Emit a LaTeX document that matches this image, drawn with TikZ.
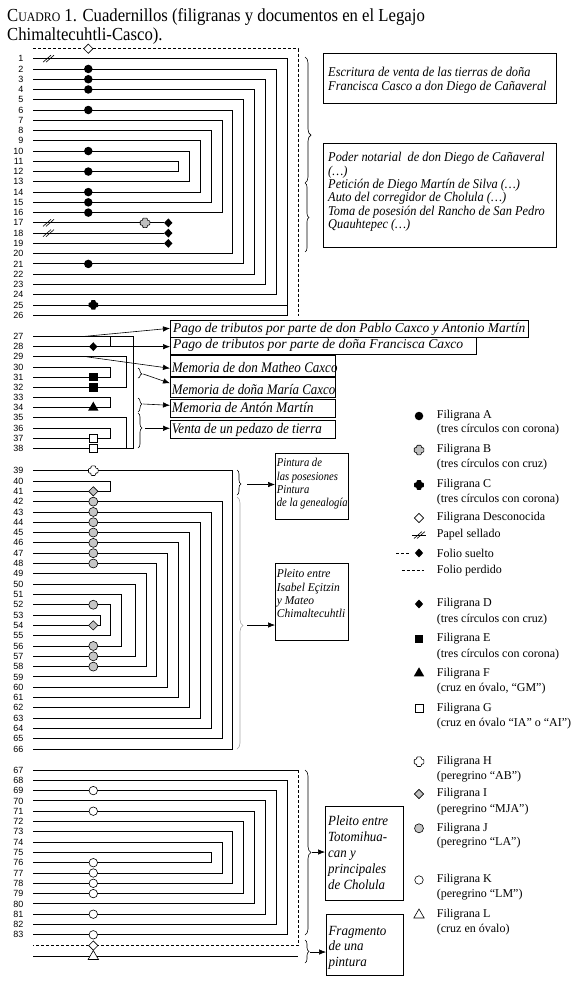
\documentclass[tikz,border=0pt]{standalone}
\usepackage{fontspec}
\usepackage{graphicx}
\setmainfont{Liberation Serif}
\newfontfamily\numfont{Liberation Sans}
\usetikzlibrary{arrows.meta,decorations.pathreplacing,shapes.geometric}
\tikzset{
  fol/.style={line width=0.85pt},
  lost/.style={line width=0.85pt, dash pattern=on 3pt off 2pt},
  num/.style={font=\numfont\fontsize{9}{9}\selectfont, anchor=east, inner sep=0pt},
  frame/.style={draw, line width=0.8pt, anchor=north west, inner sep=0pt},
  tbox/.style={anchor=north west, inner sep=0pt},
  brc/.style={decorate, decoration={brace, amplitude=4pt}, line width=0.6pt},
  arr/.style={-{Latex[length=7pt,width=5.5pt]}, line width=0.6pt},
  leg/.style={anchor=west, inner sep=0pt, font=\fontsize{12}{12}\selectfont},
  ttl/.style={anchor=base west, inner sep=0pt, font=\fontsize{16.7}{19}\selectfont},
  fA/.style={circle, fill=black, minimum size=8.5pt, inner sep=0pt},
  fD/.style={diamond, fill=black, minimum width=8.5pt, minimum height=9pt, inner sep=0pt},
  fE/.style={rectangle, fill=black, minimum size=8.5pt, inner sep=0pt},
  fF/.style={regular polygon, regular polygon sides=3, fill=black, minimum size=12pt, inner sep=0pt},
  fG/.style={rectangle, draw, line width=0.6pt, fill=white, minimum size=8pt, inner sep=0pt},
  fI/.style={diamond, draw, line width=0.6pt, fill=gray!50, minimum size=9.5pt, inner sep=0pt},
  fJ/.style={circle, draw, line width=0.6pt, fill=gray!45, minimum size=9pt, inner sep=0pt},
  fK/.style={circle, draw, line width=0.6pt, fill=white, minimum size=8.5pt, inner sep=0pt},
  fL/.style={regular polygon, regular polygon sides=3, draw, line width=0.6pt, fill=white, minimum size=12pt, inner sep=0pt},
  fU/.style={diamond, draw, line width=0.6pt, fill=white, minimum size=9.5pt, inner sep=0pt},
  crossmk/.pic={\path[pic actions, rounded corners=0.8pt] (-2.3,-4.8) -- (2.3,-4.8) -- (2.3,-2.3) -- (4.8,-2.3) -- (4.8,2.3) -- (2.3,2.3) -- (2.3,4.8) -- (-2.3,4.8) -- (-2.3,2.3) -- (-4.8,2.3) -- (-4.8,-2.3) -- (-2.3,-2.3) -- cycle;},
  sellmk/.pic={\draw[line width=0.6pt] (-5,3.5) -- (3,-3.5) (-2,3.5) -- (6,-3.5);}
}
\newcommand\fpair[3]{\draw[fol] (r#1) -- (#3,0 |- r#1) -- (#3,0 |- r#2) -- (r#2);}
% width, total height, font size, line spacing, lines
\newcommand\fitlines[5]{\resizebox*{#1pt}{#2pt}{\fontsize{#3pt}{#4pt}\selectfont\itshape\begin{tabular}{@{}l@{}}#5\end{tabular}}}
\begin{document}
\begin{tikzpicture}[x=1pt,y=-1pt]
\useasboundingbox (0,0) rectangle (587,985);
% title
\node[ttl] (t1) at (7,21) {\scalebox{1}[1.1]{C{\fontsize{11.8}{14}\selectfont UADRO} 1. Cuadernillos (filigranas y documentos en el Legajo}};
\node[ttl] (t2) at (7,40.7) {\scalebox{1}[1.1]{Chimaltecuhtli-Casco).}};
% rows
\foreach \n in {1,...,26}{\coordinate (r\n) at (33,{58.7+(\n-1)*10.26});}
\foreach \n in {27,...,38}{\coordinate (r\n) at (33,{336.5+(\n-27)*10.16});}
\foreach \n in {39,...,66}{\coordinate (r\n) at (33,{470.7+(\n-39)*10.31});}
\foreach \n in {67,...,83}{\coordinate (r\n) at (33,{770+(\n-67)*10.3});}
\coordinate (rd1) at (33,48.7);
\coordinate (rd2) at (33,945.5);
\coordinate (rl) at (33,956.5);
\foreach \n in {1,...,83}{\node[num] (n\n) at ([xshift=-9.5pt]r\n) {\n};}
% ---- section 1
\draw[lost] (rd1) -- (298,0 |- rd1) -- (298,316);
\fpair{1}{26}{287.5}
\draw[fol] (r25) -- (287.5,0 |- r25);
\fpair{2}{24}{276.7}
\fpair{3}{23}{265.7}
\fpair{4}{22}{254.8}
\fpair{5}{21}{243.8}
\fpair{6}{20}{232.8}
\fpair{7}{16}{222.3}
\fpair{8}{15}{211.3}
\fpair{9}{14}{200.3}
\fpair{10}{13}{189.3}
\fpair{11}{12}{178.3}
\foreach \n in {17,18,19}{\node[fD] (d\n) at (168.3,0 |- r\n) {}; \draw[fol] (r\n) -- (d\n);}
\foreach \n in {2,3,4,6,10,12,14,15,16,21}{\node[fA] (a\n) at (88.3,0 |- r\n) {};}
\node[fU] (u0) at (88.3,0 |- rd1) {};
\pic at (48,0 |- r1) {sellmk};
\pic at (48,0 |- r17) {sellmk};
\pic at (48,0 |- r18) {sellmk};
\pic[fill=gray!50, draw=black, line width=0.6pt] at (145,0 |- r17) {crossmk};
\pic[fill=black] at (93.3,0 |- r25) {crossmk};
% braces section 1
\draw[brc, decoration={aspect=0.62, amplitude=6pt}] (305,57) -- (305,183);
\draw[brc] (305,183) -- (305,252);
\node[frame, minimum width=233.3pt, minimum height=50pt] (b1) at (322.7,53.3) {};
\node[tbox] (b1t) at (328,67.4) {\fitlines{218.4}{26.6}{13.6}{13.3}{Escritura de venta de las tierras de doña\\Francisca Casco a don Diego de Cañaveral}};
\node[frame, minimum width=233.3pt, minimum height=104pt] (b2) at (322.7,143.3) {};
\node[tbox] (b2t) at (328,152.4) {\fitlines{216.7}{79.8}{13.6}{13.3}{Poder notarial\ \ de don Diego de Cañaveral\\(…)\\Petición de Diego Martín de Silva (…)\\Auto del corregidor de Cholula (…)\\Toma de posesión del Rancho de San Pedro\\Quauhtepec (…)}};
% ---- section 2
\draw[fol] (r27) -- (133,0 |- r27) -- (133,0 |- r38) -- (r38);
\draw[fol] (110,0 |- r27) -- (110,0 |- r28) -- (r28);
\fpair{29}{32}{126.7}
\fpair{30}{31}{110}
\fpair{33}{34}{110}
\fpair{35}{38}{126.7}
\fpair{36}{37}{110}
\node[fD] (d28) at (93.3,0 |- r28) {};
\node[fE] (e31) at (93.3,0 |- r31) {};
\node[fE] (e32) at (93.3,0 |- r32) {};
\node[fF] (f34) at (93.3,0 |- r34) {};
\node[fG] (g37) at (93.3,0 |- r37) {};
\node[fG] (g38) at (93.3,0 |- r38) {};
\node[frame, minimum width=358pt, minimum height=17pt] (p1) at (170,320) {};
\node[tbox] (p1t) at (173,323.4) {\fitlines{352}{13.3}{13.6}{13.3}{Pago de tributos por parte de don Pablo Caxco y Antonio Martín}};
\node[frame, minimum width=306pt, minimum height=17pt] (p2) at (170,337) {};
\node[tbox] (p2t) at (173,339.2) {\fitlines{290}{13.3}{13.6}{13.3}{Pago de tributos por parte de doña Francisca Caxco}};
\node[frame, minimum width=165pt, minimum height=20.5pt] (m1) at (170,355) {};
\node[tbox] (m1t) at (171.7,362.3) {\fitlines{165.6}{14.6}{14.6}{14.6}{Memoria de don Matheo Caxco}};
\node[frame, minimum width=165pt, minimum height=20pt] (m2) at (170,377) {};
\node[tbox] (m2t) at (171.7,383.8) {\fitlines{163.3}{14.6}{14.6}{14.6}{Memoria de doña María Caxco}};
\node[frame, minimum width=165pt, minimum height=17.5pt] (m3) at (170,399) {};
\node[tbox] (m3t) at (171.7,402.3) {\fitlines{141.7}{14.6}{14.6}{14.6}{Memoria de Antón Martín}};
\node[frame, minimum width=165pt, minimum height=18pt] (m4) at (170,419.5) {};
\node[tbox] (m4t) at (171.7,423.3) {\fitlines{150}{14.6}{14.6}{14.6}{Venta de un pedazo de tierra}};
\coordinate (a1s) at (83.3,0 |- r27);
\coordinate (a3s) at (86.7,0 |- r29);
\draw[arr] (a1s) -- (p1.west |- 0,328.3);
\draw[arr] (d28) -- (p2.west |- d28);
\draw[arr] (a3s) -- (m1.west |- 0,368.3);
\draw[brc, decoration={aspect=0.6}] (138,368) -- (138,378);
\draw[brc, decoration={aspect=0.43}] (138,398) -- (138,412);
\draw[brc, decoration={aspect=0.43}] (138,413) -- (138,448);
\coordinate (k1) at (143.3,374);
\coordinate (k2) at (143.3,404);
\coordinate (k3) at (145,428.3);
\draw[arr] (k1) -- (m2.west |- 0,383.3);
\draw[arr] (k2) -- (m3.west |- 0,405.3);
\draw[arr] (k3) -- (m4.west |- k3);
% ---- section 3
\fpair{39}{66}{232.3}
\fpair{40}{41}{110}
\fpair{42}{65}{222.3}
\fpair{43}{64}{211.3}
\fpair{44}{63}{200.3}
\fpair{45}{62}{189.3}
\fpair{46}{61}{178.3}
\fpair{47}{60}{167.3}
\fpair{48}{59}{156.7}
\fpair{49}{58}{146.7}
\fpair{50}{57}{135}
\fpair{51}{56}{121}
\fpair{52}{55}{110}
\fpair{53}{54}{100}
\pic[fill=white, draw=black, line width=0.6pt] at (93.3,0 |- r39) {crossmk};
\node[fI] (i41) at (93.3,0 |- r41) {};
\node[fI] (i54) at (93.3,0 |- r54) {};
\foreach \n in {42,...,48,52,56,57,58}{\node[fJ] (j\n) at (93.3,0 |- r\n) {};}
\node[frame, minimum width=73.3pt, minimum height=66pt] (q1) at (275,453) {};
\node[tbox] (q1t) at (276.7,457.4) {\fitlines{70.7}{53.2}{12}{13.3}{Pintura de\\las posesiones\\Pintura\\de la genealogía}};
\node[frame, minimum width=73.3pt, minimum height=77pt] (q2) at (275,563) {};
\node[tbox] (q2t) at (276.7,568.2) {\fitlines{68.3}{53.2}{12}{13.3}{Pleito entre\\Isabel Eçitzin\\y Mateo\\Chimaltecuhtli}};
\draw[brc, decoration={aspect=0.56}] (237,470) -- (237,495);
\draw[brc, decoration={aspect=0.51, amplitude=6pt}, draw=gray!70] (237,497) -- (237,749);
\coordinate (k4) at (247,484.5);
\coordinate (k5) at (247,625);
\draw[arr] (k4) -- (q1.west |- k4);
\draw[arr] (k5) -- (q2.west |- k5);
% ---- section 4
\draw[fol] (r67) -- (298,0 |- r67);
\draw[lost] (298,0 |- r67) -- (298,0 |- rd2) -- (rd2);
\fpair{68}{83}{287.5}
\fpair{69}{82}{276.7}
\fpair{70}{81}{265.7}
\fpair{71}{80}{254.3}
\fpair{72}{79}{243.3}
\fpair{73}{78}{232.3}
\fpair{74}{77}{222.3}
\fpair{75}{76}{211.3}
\draw[fol] (rl) -- (298,0 |- rl);
\foreach \n in {69,71,76,77,78,79,81,83}{\node[fK] (k\n) at (93.3,0 |- r\n) {};}
\node[fU] (u1) at (93.3,0 |- rd2) {};
\node[fL] (l1) at (93.3,0 |- rl) {};
\node[frame, minimum width=78pt, minimum height=94pt] (t1b) at (325,806) {};
\node[tbox] (t1t) at (328,814.5) {\fitlines{60}{80}{14}{16}{Pleito entre\\Totomihua-\\can y\\principales\\de Cholula}};
\node[frame, minimum width=77pt, minimum height=61pt] (t2b) at (326,914) {};
\node[tbox] (t2t) at (328.3,924.2) {\fitlines{58}{46.5}{14}{15.5}{Fragmento\\de una\\pintura}};
\draw[brc, decoration={aspect=0.5, amplitude=6pt}] (305,770) -- (305,935);
\draw[brc] (305,940) -- (305,963);
\coordinate (k6) at (312,852);
\coordinate (k7) at (310,952);
\draw[arr] (k6) -- (t1b.west |- k6);
\draw[arr] (k7) -- (t2b.west |- k7);
% ---- legend
\node[fA] (lA) at (419,416) {};
\node[leg] (lA1) at (436.7,416) {Filigrana A};
\node[leg] (lA2) at (436.7,430) {(tres círculos con corona)};
\pic[fill=gray!50, draw=black, line width=0.6pt] at (419,450) {crossmk};
\node[leg] (lB1) at (436.7,450) {Filigrana B};
\node[leg] (lB2) at (436.7,465) {(tres círculos con cruz)};
\pic[fill=black] at (419,485) {crossmk};
\node[leg] (lC1) at (436.7,485) {Filigrana C};
\node[leg] (lC2) at (436.7,500) {(tres círculos con corona)};
\node[fU] (lU) at (419,518) {};
\node[leg] (lU1) at (436.7,518) {Filigrana Desconocida};
\draw[line width=0.6pt] (412,535) -- (426,535);
\pic at (419,535) {sellmk};
\node[leg] (lS1) at (436.7,535) {Papel sellado};
\draw[lost, line width=0.7pt] (396,553) -- (409,553);
\node[fD] (lD0) at (419,553) {};
\node[leg] (lF1) at (436.7,553) {Folio suelto};
\draw[lost, line width=0.7pt] (401.7,570.7) -- (424,570.7);
\node[leg] (lP1) at (436.7,570.7) {Folio perdido};
\node[fD] (lD) at (419,604) {};
\node[leg] (lD1) at (436.7,604) {Filigrana D};
\node[leg] (lD2) at (436.7,620) {(tres círculos con cruz)};
\node[fE] (lE) at (419,639) {};
\node[leg] (lE1) at (436.7,639) {Filigrana E};
\node[leg] (lE2) at (436.7,655) {(tres círculos con corona)};
\node[fF] (lF) at (419,673.3) {};
\node[leg] (lFF1) at (436.7,673.3) {Filigrana F};
\node[leg] (lFF2) at (436.7,689) {(cruz en óvalo, “GM”)};
\node[fG] (lG) at (419,708.3) {};
\node[leg] (lG1) at (436.7,708.3) {Filigrana G};
\node[leg] (lG2) at (436.7,724) {(cruz en óvalo “IA” o “AI”)};
\pic[fill=white, draw=black, line width=0.6pt] at (419,761.7) {crossmk};
\node[leg] (lH1) at (436.7,761.7) {Filigrana H};
\node[leg] (lH2) at (436.7,777) {(peregrino “AB”)};
\node[fI] (lI) at (419,794) {};
\node[leg] (lI1) at (436.7,794) {Filigrana I};
\node[leg] (lI2) at (436.7,810) {(peregrino “MJA”)};
\node[fJ] (lJ) at (419,828.3) {};
\node[leg] (lJ1) at (436.7,828.3) {Filigrana J};
\node[leg] (lJ2) at (436.7,843) {(peregrino “LA”)};
\node[fK] (lK) at (419,880) {};
\node[leg] (lK1) at (436.7,880) {Filigrana K};
\node[leg] (lK2) at (436.7,895) {(peregrino “LM”)};
\node[fL] (lL) at (419,915) {};
\node[leg] (lL1) at (436.7,915) {Filigrana L};
\node[leg] (lL2) at (436.7,930) {(cruz en óvalo)};
\end{tikzpicture}
\end{document}
